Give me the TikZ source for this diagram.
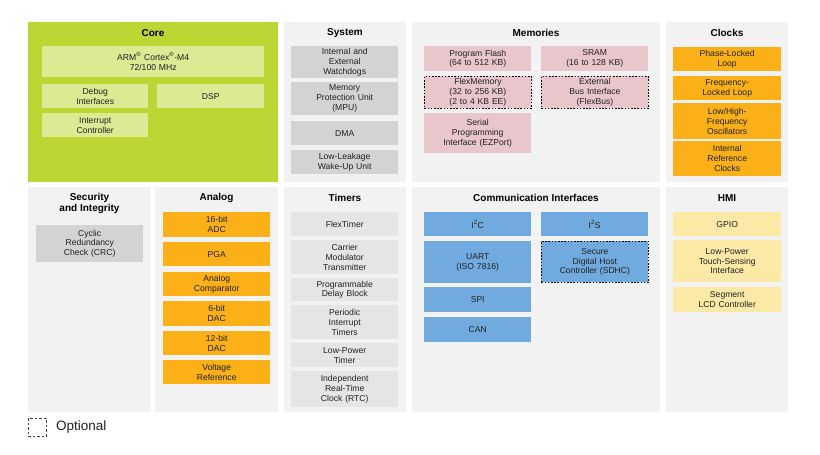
\documentclass[tikz,border=0pt]{standalone}
\usepackage{fontspec}
\setmainfont{Liberation Sans}
\definecolor{coregreen}{HTML}{BED633}
\definecolor{corelight}{HTML}{DCEA94}
\definecolor{panelgray}{HTML}{F2F2F2}
\definecolor{sysgray}{HTML}{D3D3D3}
\definecolor{timergray}{HTML}{E5E5E5}
\definecolor{mempink}{HTML}{E9C6CC}
\definecolor{orng}{HTML}{FBB018}
\definecolor{commblue}{HTML}{71AADE}
\definecolor{hmiyellow}{HTML}{FDE9A6}
\definecolor{txt}{HTML}{222222}

\tikzset{
  sz/.style 2 args={text width=#1, minimum height=#2},
  panel/.style={fill=panelgray, anchor=north west, inner sep=0pt},
  blk/.style={anchor=north west, inner sep=0pt, align=center, text=txt,
    font=\fontsize{8.6}{9.8}\selectfont},
  ttl/.style={align=center, inner sep=0pt, text=black,
    font=\bfseries\fontsize{10}{11}\selectfont},
  opt/.style={draw=black, line width=0.8pt, dash pattern=on 1.6pt off 1.6pt}
}

\begin{document}
\begin{tikzpicture}[x=1pt,y=-1pt]
  \fill[white] (0,0) rectangle (820,455);
  \useasboundingbox (0,0) rectangle (820,455);

  % Core
  \node[panel, fill=coregreen, sz={250pt}{160pt}] (corep) at (28,22) {};
  \node[ttl] (coret) at (153,33) {Core};
  \node[blk, fill=corelight, sz={222pt}{31pt}] (arm) at (42,46)
    {ARM\textsuperscript{\textregistered} Cortex\textsuperscript{\textregistered}-M4\\72/100 MHz};
  \node[blk, fill=corelight, sz={106pt}{24pt}] (debug) at (42,84) {Debug\\Interfaces};
  \node[blk, fill=corelight, sz={107pt}{24pt}] (dsp) at (157,84) {DSP};
  \node[blk, fill=corelight, sz={106pt}{24pt}] (irq) at (42,113) {Interrupt\\Controller};

  % System
  \node[panel, sz={122pt}{160pt}] (sysp) at (284,22) {};
  \node[ttl] (syst) at (345,33) {System};
  \node[blk, fill=sysgray, sz={107pt}{32pt}] (wdog) at (291,46) {Internal and\\External\\Watchdogs};
  \node[blk, fill=sysgray, sz={107pt}{33pt}] (mpu) at (291,82) {Memory\\Protection Unit\\(MPU)};
  \node[blk, fill=sysgray, sz={107pt}{24pt}] (dma) at (291,121) {DMA};
  \node[blk, fill=sysgray, sz={107pt}{24pt}] (llwu) at (291,150) {Low-Leakage\\Wake-Up Unit};

  % Memories
  \node[panel, sz={248pt}{160pt}] (memp) at (412,22) {};
  \node[ttl] (memt) at (536,33) {Memories};
  \node[blk, fill=mempink, sz={107pt}{25pt}] (pflash) at (424,46) {Program Flash\\(64 to 512 KB)};
  \node[blk, fill=mempink, sz={107pt}{25pt}] (sram) at (541,46) {SRAM\\(16 to 128 KB)};
  \node[blk, fill=mempink, opt, sz={107pt}{32pt}] (flexmem) at (424,76) {FlexMemory\\(32 to 256 KB)\\(2 to 4 KB EE)};
  \node[blk, fill=mempink, opt, sz={107pt}{32pt}] (flexbus) at (541,76) {External\\Bus Interface\\(FlexBus)};
  \node[blk, fill=mempink, sz={107pt}{40pt}] (ezport) at (424,113) {Serial\\Programming\\Interface (EZPort)};

  % Clocks
  \node[panel, sz={122pt}{160pt}] (clkp) at (666,22) {};
  \node[ttl] (clkt) at (727,33) {Clocks};
  \node[blk, fill=orng, sz={108pt}{24pt}] (pll) at (673,47) {Phase-Locked\\Loop};
  \node[blk, fill=orng, sz={108pt}{24pt}] (fll) at (673,76) {Frequency-\\Locked Loop};
  \node[blk, fill=orng, sz={108pt}{36pt}] (osc) at (673,103) {Low/High-\\Frequency\\Oscillators};
  \node[blk, fill=orng, sz={108pt}{35pt}] (irc) at (673,141) {Internal\\Reference\\Clocks};

  % Security and Integrity
  \node[panel, sz={123pt}{225pt}] (secp) at (28,187) {};
  \node[ttl] (sect) at (89.5,203.5) {Security\\and Integrity};
  \node[blk, fill=sysgray, sz={107pt}{37pt}] (crc) at (36,225) {Cyclic\\Redundancy\\Check (CRC)};

  % Analog
  \node[panel, sz={123pt}{225pt}] (anap) at (155,187) {};
  \node[ttl] (anat) at (216.5,198) {Analog};
  \node[blk, fill=orng, sz={107pt}{25pt}] (adc) at (163,212) {16-bit\\ADC};
  \node[blk, fill=orng, sz={107pt}{24pt}] (pga) at (163,242) {PGA};
  \node[blk, fill=orng, sz={107pt}{24pt}] (acmp) at (163,272) {Analog\\Comparator};
  \node[blk, fill=orng, sz={107pt}{25pt}] (dacsix) at (163,301) {6-bit\\DAC};
  \node[blk, fill=orng, sz={107pt}{24pt}] (dactw) at (163,331) {12-bit\\DAC};
  \node[blk, fill=orng, sz={107pt}{24pt}] (vref) at (163,360) {Voltage\\Reference};

  % Timers
  \node[panel, sz={122pt}{225pt}] (timp) at (284,187) {};
  \node[ttl] (timt) at (345,198) {Timers};
  \node[blk, fill=timergray, sz={107pt}{24pt}] (ftm) at (291,212) {FlexTimer};
  \node[blk, fill=timergray, sz={107pt}{34pt}] (cmt) at (291,240) {Carrier\\Modulator\\Transmitter};
  \node[blk, fill=timergray, sz={107pt}{23pt}] (pdb) at (291,278) {Programmable\\Delay Block};
  \node[blk, fill=timergray, sz={107pt}{34pt}] (pit) at (291,305) {Periodic\\Interrupt\\Timers};
  \node[blk, fill=timergray, sz={107pt}{24pt}] (lpt) at (291,343) {Low-Power\\Timer};
  \node[blk, fill=timergray, sz={107pt}{36pt}] (rtc) at (291,371) {Independent\\Real-Time\\Clock (RTC)};

  % Communication Interfaces
  \node[panel, sz={248pt}{225pt}] (comp) at (412,187) {};
  \node[ttl] (comt) at (536,198) {Communication Interfaces};
  \node[blk, fill=commblue, sz={107pt}{24pt}] (iic) at (424,212) {I\textsuperscript{2}C};
  \node[blk, fill=commblue, sz={107pt}{24pt}] (iis) at (541,212) {I\textsuperscript{2}S};
  \node[blk, fill=commblue, sz={107pt}{42pt}] (uart) at (424,241) {UART\\(ISO 7816)};
  \node[blk, fill=commblue, opt, sz={107pt}{41pt}] (sdhc) at (541,241) {Secure\\Digital Host\\Controller (SDHC)};
  \node[blk, fill=commblue, sz={107pt}{25pt}] (spi) at (424,287) {SPI};
  \node[blk, fill=commblue, sz={107pt}{25pt}] (can) at (424,317) {CAN};

  % HMI
  \node[panel, sz={122pt}{225pt}] (hmip) at (666,187) {};
  \node[ttl] (hmit) at (727,198) {HMI};
  \node[blk, fill=hmiyellow, sz={108pt}{24pt}] (gpio) at (673,212) {GPIO};
  \node[blk, fill=hmiyellow, sz={108pt}{42pt}] (tsi) at (673,240) {Low-Power\\Touch-Sensing\\Interface};
  \node[blk, fill=hmiyellow, sz={108pt}{25pt}] (lcd) at (673,287) {Segment\\LCD Controller};

  % Legend
  \node[anchor=north west, inner sep=0pt, minimum size=18pt, draw=black!75, line width=0.8pt,
    dash pattern=on 2.5pt off 2pt] (optbox) at (28,418) {};
  \node[anchor=west, inner sep=0pt, font=\fontsize{13.5}{15}\selectfont, text=txt]
    (optlbl) at (56,427.5) {Optional};
\end{tikzpicture}
\end{document}
